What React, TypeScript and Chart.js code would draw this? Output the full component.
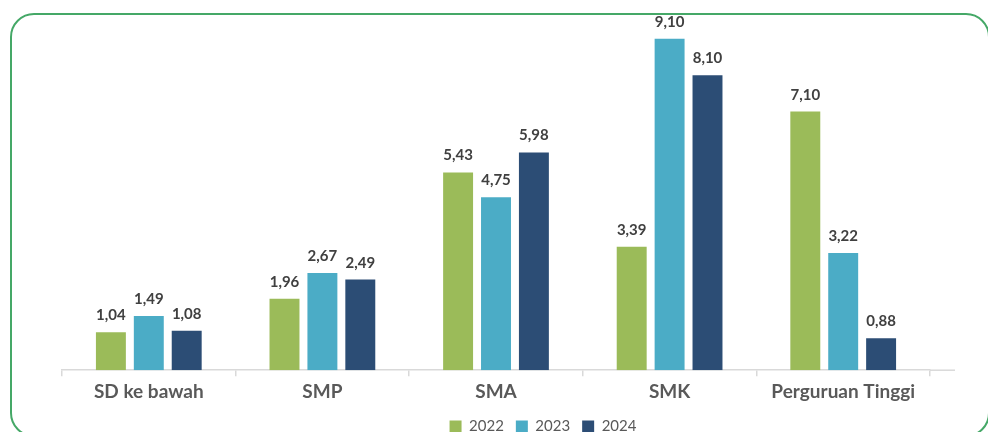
import React, { useEffect, useRef } from "react";
import { Chart, registerables } from "chart.js";

Chart.register(...registerables);

const categories = ["SD ke bawah", "SMP", "SMA", "SMK", "Perguruan Tinggi"];
const seriesNames = ["2022", "2023", "2024"];
const values2022 = [1.04, 1.96, 5.43, 3.39, 7.1];
const values2023 = [1.49, 2.67, 4.75, 9.1, 3.22];
const values2024 = [1.08, 2.49, 5.98, 8.1, 0.88];
const seriesColors = ["#9BBB59", "#4BACC6", "#2C4D75"];

const FONT = "Lato, 'Open Sans', sans-serif";

const valueLabels = {
  id: "valueLabels",
  afterDatasetsDraw(chart: any) {
    const ctx = chart.ctx;
    ctx.save();
    ctx.font = `bold 15px ${FONT}`;
    ctx.fillStyle = "#404040";
    ctx.textAlign = "center";
    ctx.textBaseline = "alphabetic";
    chart.data.datasets.forEach((ds: any, i: number) => {
      const meta = chart.getDatasetMeta(i);
      meta.data.forEach((bar: any, j: number) => {
        const v = ds.data[j] as number;
        ctx.fillText(v.toFixed(2).replace(".", ","), bar.x, bar.y - 12);
      });
    });
    ctx.restore();
  },
};

const axisExtension = {
  id: "axisExtension",
  afterDraw(chart: any) {
    const { ctx, chartArea } = chart;
    ctx.save();
    ctx.strokeStyle = "#d9d9d9";
    ctx.lineWidth = 1.5;
    ctx.beginPath();
    ctx.moveTo(chartArea.right, chartArea.bottom);
    ctx.lineTo(chartArea.right + 25, chartArea.bottom);
    ctx.stroke();
    ctx.restore();
  },
};

const legendShift = {
  id: "legendShift",
  afterLayout(chart: any) {
    if (chart.legend) {
      chart.legend.left += 47;
      chart.legend.right += 47;
    }
  },
};

export default function App() {
  const ref = useRef<HTMLCanvasElement>(null);
  useEffect(() => {
    if (!ref.current) return;
    const seriesValues = [values2022, values2023, values2024];
    const chart = new Chart(ref.current, {
      type: "bar",
      data: {
        labels: categories,
        datasets: seriesNames.map((name, i) => ({
          label: name,
          data: seriesValues[i],
          backgroundColor: seriesColors[i],
          borderWidth: 0,
          categoryPercentage: 0.655,
          barPercentage: 0.79,
        })),
      },
      options: {
        animation: false,
        responsive: false,
        devicePixelRatio: 1,
        layout: { padding: { left: 62, right: 58, top: 6, bottom: 0 } },
        plugins: {
          tooltip: { enabled: false },
          legend: {
            position: "bottom",
            labels: {
              boxWidth: 12,
              boxHeight: 12,
              padding: 12,
              color: "#595959",
              font: { family: FONT, size: 15 },
            },
          },
        },
        scales: {
          x: {
            grid: {
              offset: true,
              drawOnChartArea: false,
              tickLength: 6,
              color: "#d9d9d9",
              lineWidth: 1.5,
            },
            border: { color: "#d9d9d9", width: 1.5 },
            ticks: {
              color: "#595959",
              padding: 4,
              font: { family: FONT, size: 19, weight: "bold" },
              maxRotation: 0,
            },
          },
          y: { display: false, min: 0, max: 10 },
        },
      },
      plugins: [valueLabels, axisExtension, legendShift],
    });
    return () => chart.destroy();
  }, []);

  return (
    <div style={{ position: "absolute", left: 0, top: 0, width: 988, height: 432, overflow: "hidden", background: "#fff" }}>
      <div
        style={{
          position: "absolute",
          left: 10,
          top: 13,
          width: 980,
          height: 424,
          boxSizing: "border-box",
          border: "2.5px solid #45A867",
          borderRadius: 24,
        }}
      />
      <canvas ref={ref} width={988} height={444} style={{ position: "absolute", left: 0, top: 0 }} />
    </div>
  );
}
